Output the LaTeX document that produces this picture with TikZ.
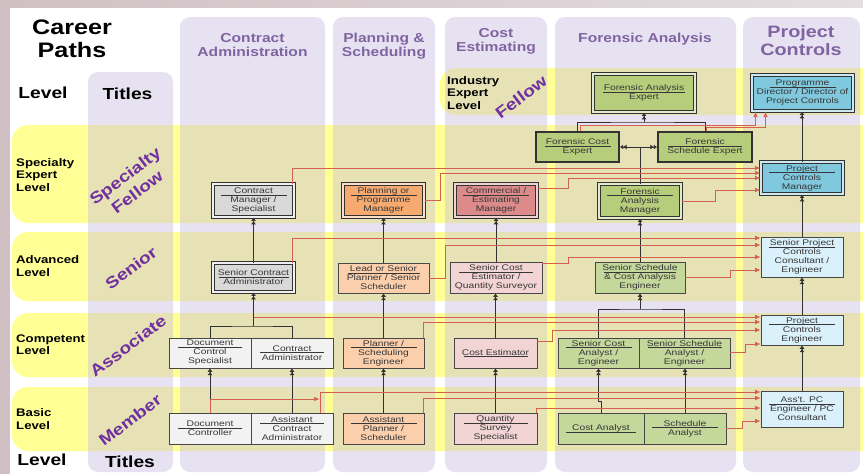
\documentclass[tikz,border=0pt]{standalone}
\usepackage{fontspec}
\setmainfont[FakeStretch=1.2]{Liberation Sans}
\newfontfamily\boxf[FakeStretch=1.25]{Liberation Sans}
\usetikzlibrary{arrows.meta}
\definecolor{framec}{RGB}{208,192,196}
\definecolor{framer}{RGB}{228,222,224}
\definecolor{band}{RGB}{255,255,150}
\definecolor{colm}{RGB}{200,190,225}
\definecolor{hdr}{RGB}{128,100,162}
\definecolor{purp}{RGB}{112,48,160}
\definecolor{redl}{RGB}{214,96,80}
\definecolor{lnk}{RGB}{50,50,50}
\definecolor{txt}{RGB}{55,55,55}
\definecolor{gA}{RGB}{217,217,217}
\definecolor{gB}{RGB}{242,242,242}
\definecolor{oA}{RGB}{247,170,112}
\definecolor{oB}{RGB}{252,207,172}
\definecolor{rA}{RGB}{220,138,138}
\definecolor{rB}{RGB}{242,212,212}
\definecolor{vA}{RGB}{182,205,124}
\definecolor{vB}{RGB}{197,216,156}
\definecolor{bA}{RGB}{128,200,222}
\definecolor{bB}{RGB}{218,240,250}
\tikzset{
  cbase/.style={align=center, font=\boxf\fontsize{8.2}{9}\selectfont, text=txt, inner sep=0pt},
  cdbl/.style={cbase, fill=#1, draw=lnk, line width=1pt, double=#1!40!white, double distance=1.2pt},
  csgl/.style={cbase, fill=#1, draw=lnk!90, line width=0.7pt},
  cthk/.style={cbase, fill=#1, draw=lnk, line width=1.6pt},
  cln/.style={draw=lnk, line width=0.8pt},
  cup/.style={cln, -{Latex[length=3.4pt,width=5pt] Latex[length=3.4pt,width=5pt]}},
  cboth/.style={cln, {Latex[length=3.4pt,width=5pt] Latex[length=3.4pt,width=5pt]}-{Latex[length=3.4pt,width=5pt] Latex[length=3.4pt,width=5pt]}},
  cred/.style={draw=redl, line width=0.65pt, -{Latex[length=5.5pt,width=4.5pt]}},
  clvl/.style={font=\bfseries\fontsize{11}{12.3}\selectfont, align=left, anchor=west, inner sep=0pt},
  chd/.style={font=\bfseries\fontsize{13}{14}\selectfont, text=hdr, align=center, inner sep=0pt},
  crot/.style={font=\bfseries\fontsize{16}{20}\selectfont, text=purp, rotate=37, align=center, inner sep=0pt},
  cbig/.style={font=\bfseries\fontsize{16}{18}\selectfont, inner sep=0pt},
}
% style, name, x1, y1, x2, y2, rule width, first line, rest
\newcommand\bx[9]{%
  \node[#1, minimum width={(#5-#3)*1pt}, minimum height={(#6-#4)*1pt}] (#2)
    at ({(#3+#5)/2},{(#4+#6)/2}) {#8\\[-7.5pt]\rule{#7}{0.5pt}\\[-1.5pt]#9};}
\newcommand\bxu[8]{%
  \node[#1, minimum width={(#5-#3)*1pt}, minimum height={(#6-#4)*1pt}] (#2)
    at ({(#3+#5)/2},{(#4+#6)/2}) {#8\\[-7.5pt]\rule{#7}{0.5pt}};}
\begin{document}
\begin{tikzpicture}[x=1pt,y=-1pt]
\useasboundingbox (0,0) rectangle (863,474);
% frame
\fill[framec] (0,0) rectangle (863,474);
\shade[left color=framec, right color=framer] (10,0) rectangle (863,8);
\fill[white] (10,8) rectangle (863,474);
% level bands
\fill[band, rounded corners=16pt] (12,125) rectangle (890,223);
\fill[band, rounded corners=16pt] (12,232) rectangle (890,301);
\fill[band, rounded corners=16pt] (12,313) rectangle (890,377);
\fill[band, rounded corners=16pt] (12,387) rectangle (890,451);
\fill[band, rounded corners=16pt] (440,68) rectangle (890,115);
% columns
\begin{scope}[fill=colm, fill opacity=0.44, rounded corners=10pt]
\fill (88,72) rectangle (173,472);
\fill (180,17) rectangle (325,472);
\fill (333,17) rectangle (435,472);
\fill (445,17) rectangle (547,472);
\fill (555,17) rectangle (736,472);
\fill (743,17) rectangle (860,472);
\end{scope}
% headings
\node[font=\bfseries\fontsize{21}{23}\selectfont, align=center, inner sep=0pt] (career) at (72,39) {Career\\Paths};
\node[cbig] (lvtop) at (43,92.5) {Level};
\node[cbig] (tttop) at (127.5,94) {Titles};
\node[cbig] (lvbot) at (42,459.5) {Level};
\node[cbig] (ttbot) at (130,461.5) {Titles};
\node[chd] (hca) at (252.5,45) {Contract\\Administration};
\node[chd] (hps) at (384,46.5) {Planning \&\\Scheduling};
\node[chd] (hce) at (496,41.5) {Cost\\Estimating};
\node[chd] (hfa) at (645,39) {Forensic Analysis};
\node[chd, font=\bfseries\fontsize{16.5}{18}\selectfont] (hpc) at (801,40.5) {Project\\Controls};
% level labels
\node[clvl] (lind) at (447,93) {Industry\\Expert\\Level};
\node[clvl] (lspe) at (16,175) {Specialty\\Expert\\Level};
\node[clvl] (ladv) at (16,266) {Advanced\\Level};
\node[clvl] (lcom) at (16,345) {Competent\\Level};
\node[clvl] (lbas) at (16,419) {Basic\\Level};
% titles (rotated)
\node[crot] (rsf) at (131,184) {Specialty\\Fellow};
\node[crot] (rsen) at (131,268) {Senior};
\node[crot] (rass) at (128,346) {Associate};
\node[crot] (rmem) at (130,420) {Member};
\node[crot] (rfel) at (521,97) {Fellow};
% ---- boxes: contract administration
\bx{cdbl=gA}{cm}{213}{184}{294}{217}{66pt}{Contract}{Manager /\\Specialist}
\bx{cdbl=gA}{sca}{213}{263}{294}{292}{70pt}{Senior Contract}{Administrator}
\bx{csgl=gB}{dcs}{169}{338}{251}{368}{64pt}{Document}{Control\\Specialist}
\bx{csgl=gB}{ca}{251}{338}{333}{368}{64pt}{Contract}{Administrator}
\bx{csgl=gB}{dc}{169}{413}{251}{444}{64pt}{Document}{Controller}
\bx{csgl=gB}{aca}{251}{413}{333}{444}{64pt}{Assistant}{Contract\\Administrator}
% planning
\bx{cdbl=oA}{pm}{343}{184}{424}{217}{66pt}{Planning or}{Programme\\Manager}
\bx{csgl=oB}{lp}{338}{263}{429}{293}{72pt}{Lead or Senior}{Planner / Senior\\Scheduler}
\bx{csgl=oB}{pse}{343}{338}{424}{368}{66pt}{Planner /}{Scheduling\\Engineer}
\bx{csgl=oB}{aps}{343}{413}{424}{444}{66pt}{Assistant}{Planner /\\Scheduler}
% cost
\bx{cdbl=rA}{cem}{455}{184}{537}{217}{66pt}{Commercial /}{Estimating\\Manager}
\bx{csgl=rB}{sce}{450}{262}{542}{293}{74pt}{Senior Cost}{Estimator /\\Quantity Surveyor}
\bxu{csgl=rB}{ce}{454}{338}{537}{368}{64pt}{Cost Estimator}
\bx{csgl=rB}{qss}{454}{413}{537}{444}{64pt}{Quantity}{Survey\\Specialist}
% forensic
\bx{cdbl=vA}{fae}{593}{74}{695}{112}{82pt}{Forensic Analysis}{Expert}
\bx{cthk=vA}{fce}{536}{132}{619}{162}{66pt}{Forensic Cost}{Expert}
\bx{cthk=vA}{fse}{658}{132}{752}{162}{74pt}{Forensic}{Schedule Expert}
\bx{cdbl=vA}{fam}{599}{184}{681}{218}{66pt}{Forensic}{Analysis\\Manager}
\bx{csgl=vB}{ssc}{595}{262}{685}{293}{72pt}{Senior Schedule}{\& Cost Analysis\\Engineer}
\bx{csgl=vB}{sna}{558}{338}{639}{368}{66pt}{Senior Cost}{Analyst /\\Engineer}
\bx{csgl=vB}{ssa}{639}{338}{730}{368}{74pt}{Senior Schedule}{Analyst /\\Engineer}
\bxu{csgl=vB}{cas}{558}{413}{644}{444}{70pt}{Cost Analyst}
\bx{csgl=vB}{sa}{644}{413}{726}{444}{66pt}{Schedule}{Analyst}
% project controls
\bx{cdbl=bA}{pd}{752}{75}{853}{111}{66pt}{Programme}{Director / Director of\\Project Controls}
\bx{cdbl=bA}{pcm}{761}{162}{843}{194}{66pt}{Project}{Controls\\Manager}
\bx{csgl=bB}{spc}{761}{237}{843}{277}{66pt}{Senior Project}{Controls\\Consultant /\\Engineer}
\bx{csgl=bB}{pce}{761}{315}{843}{345}{66pt}{Project}{Controls\\Engineer}
\bx{csgl=bB}{apc}{761}{391}{843}{427}{66pt}{Ass't. PC}{Engineer / PC\\Consultant}
% ---- black progression connectors
\draw[cup] (sca.north) -- (cm.south);
\coordinate (jc) at (253.5,326);
\draw[cln] (dcs.north) |- (jc) -| (ca.north);
\draw[cup] (jc) -- (sca.south);
\draw[cup] (dc.north) -- (dcs.south);
\draw[cup] (aca.north) -- (ca.south);
\draw[cup] (lp.north) -- (pm.south);
\draw[cup] (pse.north) -- (lp.south);
\draw[cup] (aps.north) -- (pse.south);
\draw[cup] (sce.north) -- (cem.south);
\draw[cup] (ce.north) -- (ce.north |- sce.south);
\draw[cup] (qss.north) -- (ce.south);
\draw[cup] (ssc.north) -- (fam.south);
\draw[cln] (fam.north) -- (fam.north |- fce.east);
\draw[cboth] (fce.east) -- (fse.west);
\coordinate (jx) at (644,122);
\draw[cln] (fce.north) |- (jx) -| (fse.north);
\draw[cup] (jx) -- (fae.south);
\coordinate (js) at (640,309);
\draw[cln] (sna.north) |- (js) -| (ssa.north);
\draw[cup] (js) -- (ssc.south);
\draw[cup] (cas.north) -- ++(0,-11) -| (sna.south);
\draw[cup] (sa.north) -- (sa.north |- ssa.south);
\draw[cup] (apc.north) -- (pce.south);
\draw[cup] (pce.north) -- (spc.south);
\draw[cup] (spc.north) -- (pcm.south);
\draw[cup] (pcm.north) -- (pcm.north |- pd.south);
% ---- red connectors to project controls
\draw[cred] ([xshift=3pt]fce.north) -- ++(0,-6) -| ([xshift=4pt]pd.south west);
\draw[cred] ([xshift=1pt]fse.north) -- ++(0,-4) -| ([xshift=14pt]pd.south west);
\draw[cred] ([xshift=-2pt]cm.north east) |- ([yshift=10pt]pcm.west);
\draw[cred] (pm.east) -- ++(16,0) |- ([yshift=5pt]pcm.west);
\draw[cred] ([yshift=12pt]cem.east) -- ++(31,0) |- (pcm.west);
\draw[cred] (fam.east) -- ++(34,0) |- ([yshift=-12pt]pcm.west);
\draw[cred] ([xshift=-2pt]sca.north east) |- ([yshift=19pt]spc.west);
\draw[cred] (lp.east) -- ++(16,0) |- ([yshift=12pt]spc.west);
\draw[cred] ([yshift=14pt]sce.east) -- ++(26,0) |- (spc.west);
\draw[cred] (ssc.east) -- ++(45,0) |- ([yshift=-13pt]spc.west);
\coordinate (jr) at (253.5,317);
\draw[cred] (jr) -- (jr -| pce.west);
\draw[cred] ([xshift=-1.5pt]pse.north east) |- ([yshift=8pt]pce.west);
\draw[cred] ([yshift=12pt]ce.east) -- ++(15,0) |- (pce.west);
\draw[cred] ([yshift=1pt]ssa.east) -- ++(15,0) |- ([yshift=-14pt]pce.west);
\draw[cred] ([xshift=-13pt]aca.north east) |- ([yshift=17pt]apc.west);
\coordinate (ja) at (319.5,399);
\draw[cred] (dc.north) |- (ja);
\draw[cred] ([xshift=-1.5pt]aps.north east) |- ([yshift=11pt]apc.west);
\draw[cred] ([xshift=-1.5pt]qss.north east) |- ([yshift=1pt]apc.west);
\draw[cred] (sa.east) -- ++(16,0) |- ([yshift=-12pt]apc.west);
\end{tikzpicture}
\end{document}
